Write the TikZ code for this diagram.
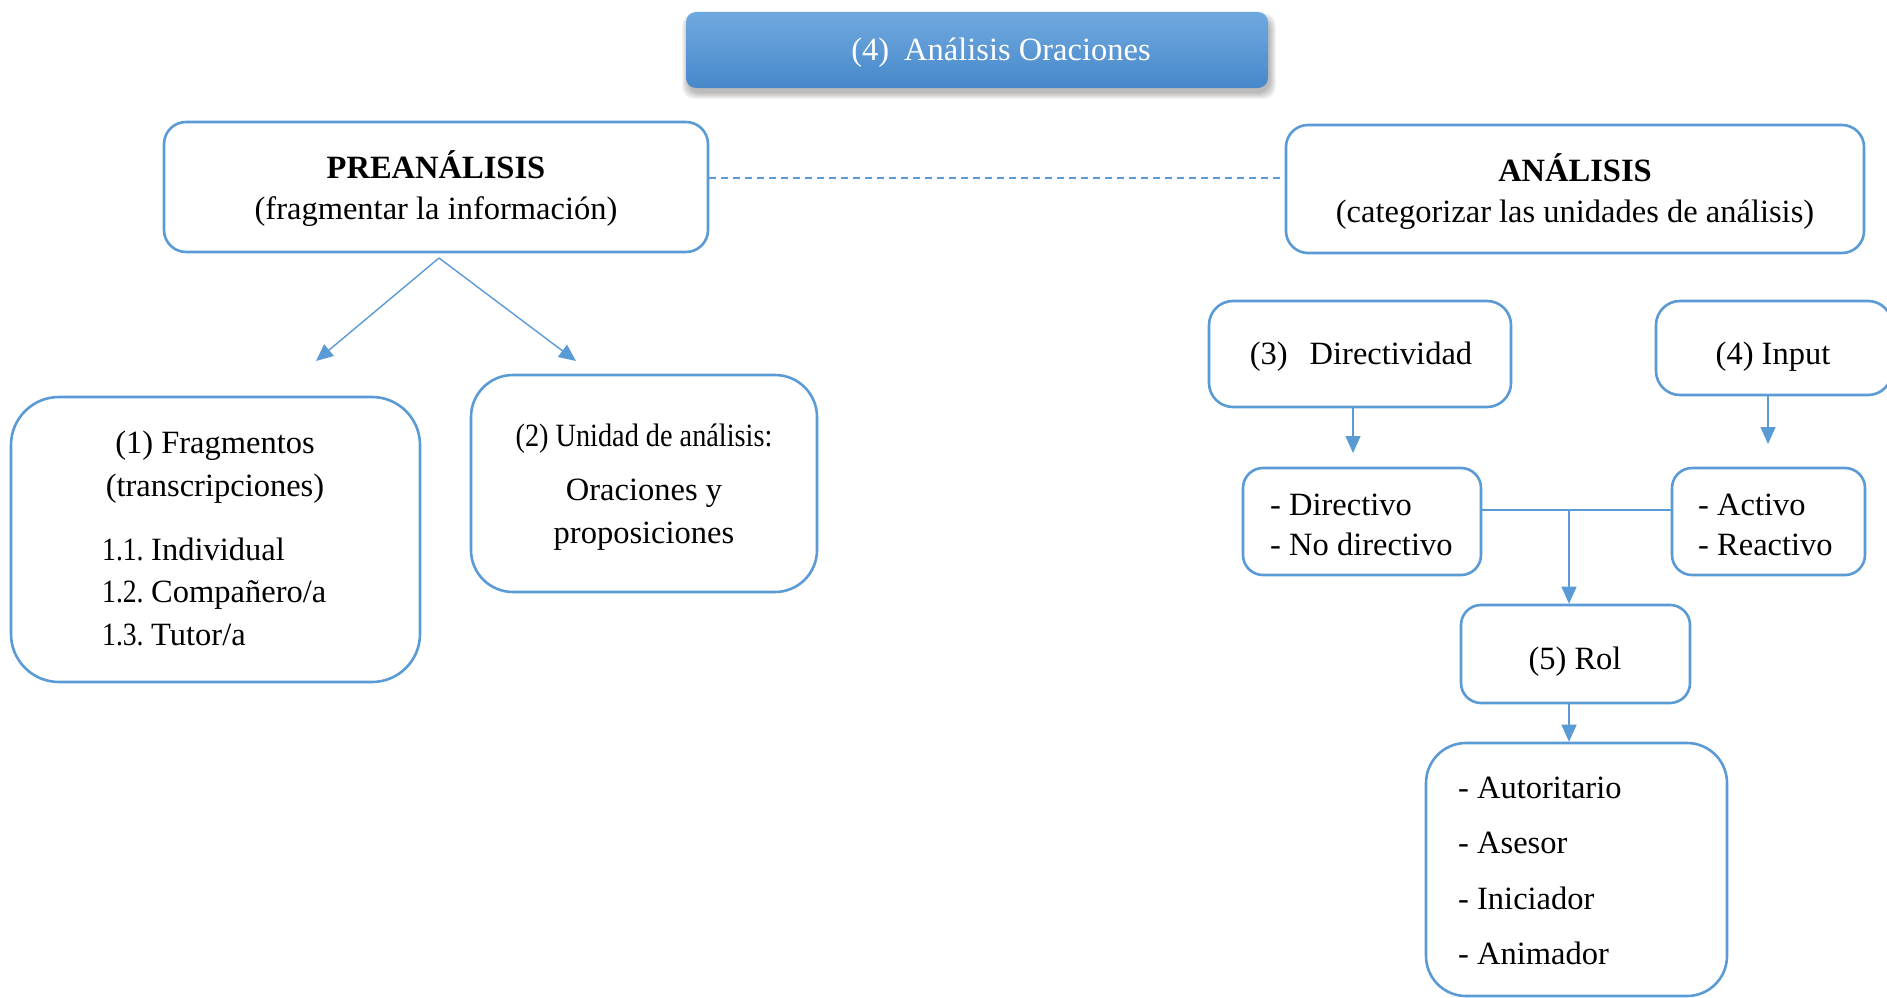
\documentclass[tikz,border=0pt]{standalone}
\usepackage{fontspec}
\setmainfont{Liberation Serif}
\usepackage{graphicx}
\usetikzlibrary{arrows.meta}
\definecolor{frame}{HTML}{5B9BD5}
\definecolor{headtop}{HTML}{70A9DF}
\definecolor{headbot}{HTML}{4788CA}
\begin{document}
\begin{tikzpicture}[x=1pt,y=-1pt,
  box/.style={draw=frame,line width=2.6pt,fill=white,rounded corners=#1,inner sep=0pt},
  box/.default=20pt,
  txt/.style={inner sep=0pt,font=\fontsize{32.5}{41}\selectfont,anchor=mid},
  ltxt/.style={txt,anchor=mid west},
  conn/.style={draw=frame,line width=1.4pt},
  arr/.style={conn,-{Triangle[length=17pt,width=15pt]}},
  dashline/.style={conn,dash pattern=on 7pt off 5pt}]
\useasboundingbox (0,0) rectangle (1887,998);

% soft shadow under the heading bar
\foreach \s in {0,...,6}
  \fill[black,opacity=0.045,rounded corners=12pt]
    (686-\s+2,12-\s+7) rectangle (1268+\s+2,88+\s+5);

% heading bar and its caption
\node[rounded corners=10pt,top color=headtop,bottom color=headbot,
      minimum width=582pt,minimum height=76pt,inner sep=0pt] (head) at (977,50) {};
\node[txt,text=white] (headT) at (1001,58) {(4)\hspace{15pt}Análisis Oraciones};

% main stages
\node[box=22pt,minimum width=544pt,minimum height=130pt] (pre) at (436,187) {};
\node[txt] (preA) at (436,176) {\textbf{PREANÁLISIS}};
\node[txt] (preB) at (436,217) {(fragmentar la información)};

\node[box=22pt,minimum width=578pt,minimum height=128pt] (ana) at (1575,189) {};
\node[txt] (anaA) at (1575,179) {\textbf{ANÁLISIS}};
\node[txt] (anaB) at (1575,220) {(categorizar las unidades de análisis)};

\coordinate (dashy) at (0,178);
\draw[dashline] (pre.east |- dashy) -- (ana.west |- dashy);

% pre-analysis branch
\node[box=48pt,minimum width=409pt,minimum height=285pt] (frag) at (215.5,539.5) {};
\node[txt] (fragA) at (215,451) {(1) Fragmentos};
\node[txt] (fragB) at (215,494) {(transcripciones)};
\node[ltxt] (frag1) at (102,558) {\makebox[49pt][l]{\scalebox{0.85}[1]{1.1.}}Individual};
\node[ltxt] (frag2) at (102,600) {\makebox[49pt][l]{\scalebox{0.85}[1]{1.2.}}Compañero/a};
\node[ltxt] (frag3) at (102,643) {\makebox[49pt][l]{\scalebox{0.85}[1]{1.3.}}Tutor/a};

\node[box=42pt,minimum width=346pt,minimum height=217pt] (uni) at (644,483.5) {};
\node[txt] (uniA) at (644,444) {\scalebox{0.87}[1]{(2) Unidad de análisis:}};
\node[txt] (uniB) at (644,498) {Oraciones y};
\node[txt] (uniC) at (644,541) {proposiciones};

\coordinate (split) at (439,258);
\coordinate (toFrag) at (316,361);
\coordinate (toUni) at (576,361);
\draw[arr] (split) -- (toFrag);
\draw[arr] (split) -- (toUni);

% analysis branch
\node[box=24pt,minimum width=302pt,minimum height=106pt] (dir) at (1360,354) {};
\node[txt] (dirT) at (1361,362) {(3)\hspace{22pt}Directividad};

\node[box=24pt,minimum width=236pt,minimum height=94pt] (inp) at (1774,348) {};
\node[txt] (inpT) at (1773,362) {(4) Input};

\node[box=20pt,minimum width=238pt,minimum height=107pt] (dirv) at (1362,521.5) {};
\node[ltxt] (dirv1) at (1270,513) {- Directivo};
\node[ltxt] (dirv2) at (1270,553) {- No directivo};

\node[box=20pt,minimum width=193pt,minimum height=107pt] (act) at (1768.5,521.5) {};
\node[ltxt] (act1) at (1698,513) {- Activo};
\node[ltxt] (act2) at (1698,553) {- Reactivo};

\coordinate (dirEnd) at (1353,453);
\coordinate (inpEnd) at (1768,444);
\draw[arr] (dir.south -| dirEnd) -- (dirEnd);
\draw[arr] (inp.south -| inpEnd) -- (inpEnd);

\node[box=20pt,minimum width=229pt,minimum height=98pt] (rol) at (1575.5,654) {};
\node[txt] (rolT) at (1575,667) {(5) Rol};

\coordinate (join) at (1569,510);
\draw[conn] (dirv.east |- join) -- (act.west |- join);
\draw[arr] (join) -- (rol.north -| join);

\node[box=40pt,minimum width=301pt,minimum height=253pt] (roles) at (1576.5,869.5) {};
\node[ltxt] (role1) at (1458,796) {- Autoritario};
\node[ltxt] (role2) at (1458,851) {- Asesor};
\node[ltxt] (role3) at (1458,907) {- Iniciador};
\node[ltxt] (role4) at (1458,962) {- Animador};

\draw[arr] (rol.south -| join) -- (roles.north -| join);
\end{tikzpicture}
\end{document}
